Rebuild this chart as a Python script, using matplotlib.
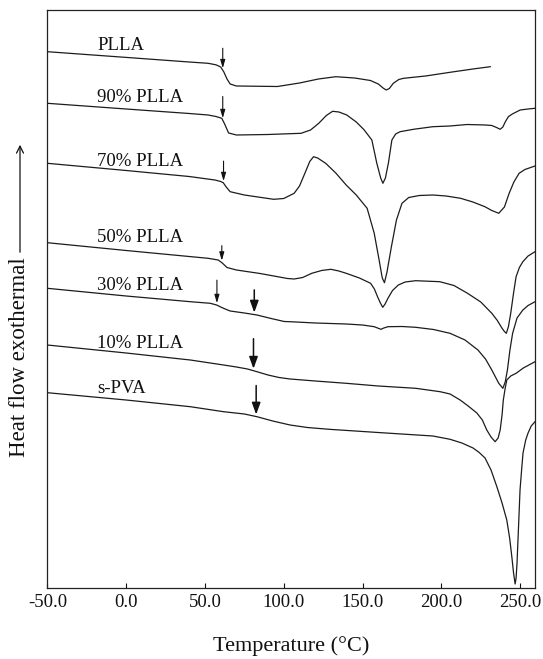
import matplotlib
matplotlib.use("Agg")
import matplotlib.pyplot as plt
from matplotlib.patches import FancyArrowPatch
import numpy as np

plt.rcParams["font.family"] = ["Liberation Serif", "DejaVu Serif"]
plt.rcParams["axes.unicode_minus"] = False

# DSC heating scans, heat flow in arbitrary units (exothermal up)
t_plla = [-50, 0, 40, 52, 57, 60, 62, 64, 66, 70, 96, 110, 122, 133, 145, 155, 160, 163,
          165, 167, 169.5, 173, 176, 190, 205.5, 220, 231]
hf_plla = [548.3, 542.6, 538.0, 536.7, 535.2, 533.0, 528.0, 521.0, 516.0, 514.0, 513.5, 517.0,
           521.0, 523.3, 522.0, 519.5, 516.0, 512.0, 510.0, 511.5, 516.7, 520.5, 521.7, 524.0,
           527.7, 531.0, 533.3]

t_90 = [-50, 0, 40, 52, 57, 60.7, 62.5, 65, 70, 90, 111, 117, 122.2, 127, 131, 135, 140, 146,
        150.8, 155.9, 159, 161.5, 162.9, 164.5, 166.4, 168.6, 171, 173.8, 182.3, 194.6, 205.5,
        216.3, 228, 232, 235, 237.3, 239, 240.5, 242.5, 245, 250, 255, 259.4]
hf_90 = [496.7, 491, 486.5, 485, 483.5, 481.7, 476, 467, 465, 465.5, 466.7, 470, 476.7, 484.5,
         488.7, 488, 485, 478, 470.5, 460, 437, 422, 416.7, 422, 437, 460, 466, 468.3, 470.7,
         473.3, 474, 475.5, 475, 474.5, 472.5, 470.7, 473, 478, 483.3, 486, 490, 491, 491.7]

t_70 = [-50, 0, 40, 56.3, 60, 61.6, 63.5, 66, 75, 93.6, 100, 106.6, 110, 113.4, 116.5, 118.9,
        121.5, 126.6, 133, 139.6, 146, 152.9, 157.4, 160.5, 162.5, 163.9, 165.5, 168.3, 171.5,
        175, 179.3, 186, 194.6, 203, 212.2, 220, 227.6, 232, 236.4, 240, 243, 246, 249.3, 253,
        259.4]
hf_70 = [436.7, 429.5, 423.5, 420, 418.5, 417.3, 413, 408.3, 405, 400.7, 401.5, 406.7, 414,
         426.7, 438.5, 443.3, 442, 436.7, 427, 415, 405, 391.7, 366.7, 340, 322, 317.3, 328,
         353.3, 380, 396.7, 402.5, 404.5, 405, 404, 401.7, 398, 393.3, 389.5, 386.7, 393, 406.7,
         418, 426.7, 430.5, 434]

t_50 = [-50, 0, 40, 52, 58.4, 61, 64, 70, 85, 102.4, 106.6, 112, 117.8, 124, 129.9, 135, 139.6,
        148, 155.1, 157.5, 159.5, 161.3, 162.8, 164.3, 166.1, 169, 172.7, 177, 183.7, 199, 208,
        216.6, 225, 232, 235.5, 238.5, 240, 241.2, 242.5, 244, 245.8, 247.4, 249.5, 251.7, 255,
        259.4]
hf_50 = [357.3, 349.5, 343.5, 341.7, 340, 337, 332.5, 330, 326.5, 321.5, 321, 322.5, 326.7,
         329.5, 330.7, 329, 326.7, 322, 316.7, 311, 303.3, 297, 292.7, 296, 301.7, 309.5, 315,
         318, 319.3, 318.3, 314.5, 306.7, 298, 286.7, 279.5, 271.7, 268.5, 266.7, 273, 286.7,
         307, 323.3, 332.5, 338.3, 344, 348.3]

t_30 = [-50, 0, 40.7, 53.4, 57.4, 60, 61.8, 66, 75, 83, 92, 100.3, 104, 120, 139.6, 150, 157.4,
        160, 161.7, 163.5, 166.1, 175, 183.7, 195, 205.5, 215, 223.2, 228, 232, 236.4, 239,
        240.5, 241.9, 243.5, 245.2, 248, 251.7, 255, 259.4]
hf_30 = [311.7, 304, 298.3, 296.7, 295, 293, 291.7, 289, 287, 285, 281.5, 278.5, 278.3, 277, 276,
         275, 273.3, 271.7, 270.7, 272, 273.3, 273.5, 272.7, 270.5, 266.7, 260, 250, 241, 230,
         216.7, 211.7, 218, 230, 250, 266.7, 282, 290, 294.5, 298.3]

t_10 = [-50, 0, 40.7, 61.8, 70, 77, 83, 90, 97, 104, 120, 139.6, 160, 183.7, 199.2, 205.5, 211.9,
        217, 222.5, 226, 228.8, 231.5, 234.1, 236, 237.3, 238.5, 239.3, 240.5, 241.5, 244, 247.4,
        252, 259.4]
hf_10 = [255, 247, 240, 235, 233, 231, 228.3, 225, 222.5, 221, 219, 216.7, 214, 211.7, 208.3, 206,
         200, 194, 187, 180, 170, 163, 158.3, 162, 170, 185, 200, 212, 220, 224, 226.7, 232,
         238.3]

t_pva = [-50, 0, 40.7, 61.8, 75, 83, 93, 104, 115, 128.8, 161.8, 194.6, 205.5, 213, 220.1, 224,
         227.7, 231.5, 235.2, 238.5, 241.5, 243.3, 244.7, 245.8, 246.8, 247.4, 248, 249, 249.9,
         251, 251.8, 253.5, 255, 257, 259.4]
hf_pva = [207.3, 200, 193.3, 188.3, 186, 183.3, 179, 175, 172.5, 170.7, 167.3, 164, 160.7, 157,
          152, 147.5, 142, 130, 113.3, 97, 80, 62, 43.3, 27, 16, 22, 37, 75, 110, 132, 147, 160,
          167, 174, 178.3]

sample_names = ["PLLA", "90% PLLA", "70% PLLA", "50% PLLA", "30% PLLA", "10% PLLA", "s-PVA"]
temps = [t_plla, t_90, t_70, t_50, t_30, t_10, t_pva]
flows = [hf_plla, hf_90, hf_70, hf_50, hf_30, hf_10, hf_pva]

# glass transitions marked with arrows: (sample index, temperature)
tg_marks = [(0, 61.3), (1, 61.3), (2, 61.8), (3, 60.7), (4, 57.6), (4, 81.3), (5, 80.8), (6, 82.5)]

x_ticks = [-50, 0, 50, 100, 150, 200, 250]

fig = plt.figure(figsize=(5.43, 6.59), dpi=100)
ax = fig.add_axes([47 / 543, 1 - 588 / 659, 488 / 543, 578 / 659])

line_color = "#1c1c1c"
for t, hf in zip(temps, flows):
    ax.plot(t, hf, color=line_color, lw=0.9, solid_joinstyle="round")

# sample labels, placed just above each trace
label_base = [550, 498.3, 434.5, 358.3, 310, 252, 206.7]
for name, yb in zip(sample_names, label_base):
    ax.text(-18.5, yb, name, fontsize=13.5, ha="left", va="baseline", color="#111111")

# Tg arrows
arrow_len = [20, 21.7, 20, 15, 23, 22.7, 30, 29]
arrow_big = [False, False, False, False, False, True, True, True]
for (idx, tg), L, big in zip(tg_marks, arrow_len, arrow_big):
    tip = np.interp(tg, temps[idx], flows[idx]) + 2
    if big:
        style = "-|>,head_length=0.55,head_width=0.2"
        ms, lw = 13, 1.1
    else:
        style = "-|>,head_length=0.55,head_width=0.16"
        ms, lw = 9, 0.8
    ax.annotate("", xy=(tg, tip), xytext=(tg, tip + L),
                arrowprops=dict(arrowstyle=style, color="#111111", lw=lw,
                                mutation_scale=ms, shrinkA=0, shrinkB=0))

ax.set_xlim(-50.2, 259.4)
ax.set_ylim(12, 590)
ax.set_xticks(x_ticks)
ax.set_xticklabels([f"{v:.1f}" for v in x_ticks])
ax.set_yticks([])
ax.tick_params(axis="x", direction="in", length=3.5, width=0.8, labelsize=13.5, pad=4,
               colors="#111111")
for sp in ax.spines.values():
    sp.set_linewidth(0.9)
    sp.set_color("#222222")

fig.text(291 / 543, 1 - 646 / 659, "Temperature (\u00b0C)", fontsize=16, ha="center",
         va="center", color="#111111")
fig.text(20 / 543, 1 - 357.5 / 659, "Heat flow exothermal", fontsize=16.5, rotation=90,
         ha="center", va="center", color="#111111")
fig.add_artist(FancyArrowPatch((20 / 543, 1 - 255 / 659), (20 / 543, 1 - 142 / 659),
                               transform=fig.transFigure, arrowstyle="->,head_length=0.5,head_width=0.25",
                               mutation_scale=10, lw=0.9, color="#111111"))

fig.savefig("out.png", dpi=100)
